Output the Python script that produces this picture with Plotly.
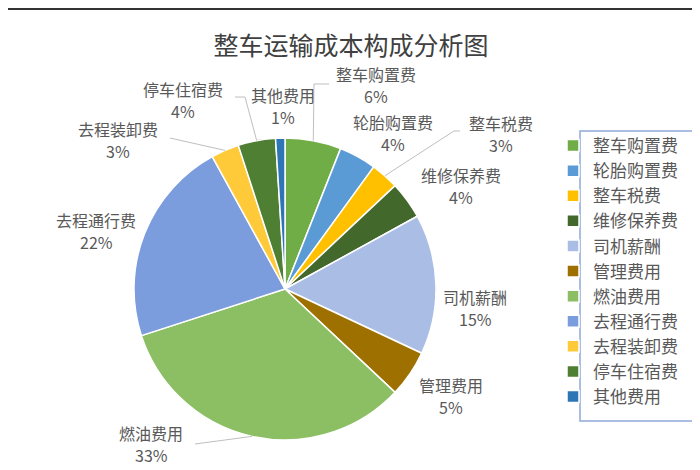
import math
import plotly.graph_objects as go

# 整车运输成本构成
labels = ['整车购置费', '轮胎购置费', '整车税费', '维修保养费', '司机薪酬', '管理费用',
          '燃油费用', '去程通行费', '去程装卸费', '停车住宿费', '其他费用']
values = [6, 4, 3, 4, 15, 5, 33, 22, 3, 4, 1]
colors = ['#70AD47', '#5B9BD5', '#FFC000', '#43682B', '#A9BDE5', '#9E7000',
          '#8CBF64', '#7B9CDD', '#FFCA3A', '#4F7F33', '#2E75B6']

W, H = 700, 470
cx, cy, R = 277, 281, 151   # pie centre / radius in pixels

# where Excel put each data label (pixel centre of the two-line block)
label_pos = [(368, 77), (385, 125), (493, 126), (453, 178), (467, 300), (443, 388),
             (143, 436), (88, 223), (110, 132), (175, 92), (275, 98)]
# leader lines: slice index -> bend points from label side (px)
leaders = {0: [(321, 76), (306, 76)],
           2: [(452, 123), (446, 123)],
           6: [(187, 436)],
           8: [(162, 130)],
           9: [(227, 89), (237, 89)]}


def px(x, y):
    return x / W, 1 - y / H


fig = go.Figure()
fig.add_trace(go.Pie(
    labels=labels, values=values, sort=False, direction='clockwise', rotation=0,
    marker=dict(colors=colors, line=dict(color='white', width=1.5)),
    textinfo='none', hoverinfo='label+percent',
    domain=dict(x=[(cx - R) / W, (cx + R) / W], y=[1 - (cy + R) / H, 1 - (cy - R) / H]),
))

total = sum(values)
annotations = []
shapes = []
cum = 0
for i, (lab, v) in enumerate(zip(labels, values)):
    mid = (cum + v / 2) / total * 2 * math.pi
    cum += v
    x0, y0 = label_pos[i]
    for txt, dy in ((lab, -11), (f'{round(v / total * 100)}%', 11)):
        lx, ly = px(x0, y0 + dy)
        annotations.append(dict(
            x=lx, y=ly, xref='paper', yref='paper', showarrow=False,
            xanchor='center', yanchor='middle', text=txt, borderpad=0,
            font=dict(size=16, color='#595959')))
    if i in leaders:
        ex, ey = cx + R * math.sin(mid), cy - R * math.cos(mid)
        pts = leaders[i] + [(ex, ey)]
        path = 'M ' + ' L '.join(f'{px(a, b)[0]:.4f},{px(a, b)[1]:.4f}' for a, b in pts)
        shapes.append(dict(type='path', path=path, xref='paper', yref='paper',
                           line=dict(color='#BFBFBF', width=1)))

# legend frame
shapes.append(dict(type='rect', xref='paper', yref='paper',
                   x0=572 / W, x1=687 / W, y0=1 - 413 / H, y1=1 - 123 / H,
                   line=dict(color='#8EA9DB', width=1.5)))
# dark frame lines at top and bottom of the screenshot
shapes.append(dict(type='rect', xref='paper', yref='paper', x0=0, x1=1, y0=1 - 2 / H, y1=1,
                   fillcolor='#333333', line=dict(width=0)))
shapes.append(dict(type='rect', xref='paper', yref='paper', x0=0, x1=1, y0=0, y1=3 / H,
                   fillcolor='#333333', line=dict(width=0)))

fig.update_layout(
    width=W, height=H,
    margin=dict(l=0, r=0, t=0, b=0),
    paper_bgcolor='white', plot_bgcolor='white',
    font=dict(family='Noto Sans CJK SC', color='#595959'),
    title=dict(text='整车运输成本构成分析图', x=343 / W, xanchor='center',
               y=1 - 38 / H, yanchor='middle',
               font=dict(size=25, color='#404040')),
    legend=dict(x=545 / W, y=1 - 120 / H, xanchor='left', yanchor='top',
                borderwidth=0, bgcolor='rgba(0,0,0,0)',
                font=dict(size=17, color='#595959')),
    annotations=annotations,
    shapes=shapes,
)

fig.write_html('out.html')
